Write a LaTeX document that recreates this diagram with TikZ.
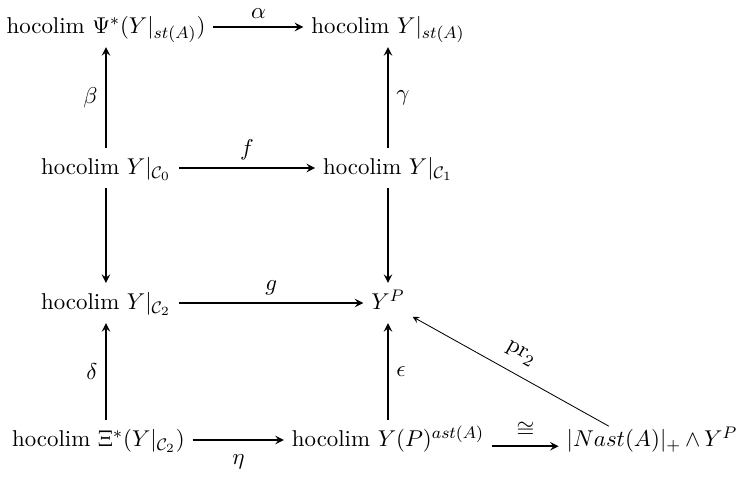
\documentclass[tikz,border=0pt,11pt]{standalone}
\usepackage{tikz}
\usetikzlibrary{positioning}

\begin{document}
\begin{tikzpicture}[
    on grid,
    obj/.style={text height=9pt, text depth=2.5pt},
    arrow/.style={->, >=stealth, thick},
    thinarrow/.style={->, >=stealth, thin}
]
\useasboundingbox (-1.782,-7.634) rectangle (10.610,0.454);

% Top row
\node[obj] (psi) {hocolim $\Psi^*(Y|_{st(A)})$};
\node[obj, right=4.742cm of psi] (sta) {hocolim $Y|_{st(A)}$};

% Second row
\node[obj, below=2.371cm of psi] (czero) {hocolim $Y|_{\mathcal{C}_0}$};
\node[obj, right=4.742cm of czero] (cone) {hocolim $Y|_{\mathcal{C}_1}$};

% Third row
\node[obj, below=2.270cm of czero] (ctwo) {hocolim $Y|_{\mathcal{C}_2}$};
\node[obj, right=4.742cm of ctwo] (yp) {$Y^P$};

% Bottom row
\node[obj, below left=2.303cm and 0.126cm of ctwo] (xi) {hocolim $\Xi^*(Y|_{\mathcal{C}_2})$};
\node[obj, below=2.303cm of yp] (ypast) {hocolim $Y(P)^{ast(A)}$};
\node[obj, right=4.439cm of ypast] (nast) {$|Nast(A)|_{+}\,{\wedge}\,Y^P$};

% Horizontal arrows
\draw[arrow] (psi) -- node[midway, above] {$\alpha$} (sta);
\draw[arrow] (czero) -- node[midway, above] {$f$} (cone);
\draw[arrow] (ctwo) -- node[midway, above] {$g$} (yp);
\draw[arrow] (xi) -- node[midway, below=3pt] {$\eta$} (ypast);
\draw[arrow] ([yshift=-3pt]ypast.east) -- node[midway, above] {$\cong$} ([yshift=-3pt]ypast.east -| nast.west);

% Vertical arrows
\draw[arrow] (czero) -- node[midway, left] {$\beta$} (psi);
\draw[arrow] (cone) -- node[midway, right] {$\gamma$} (sta);
\draw[arrow] (czero) -- (ctwo);
\draw[arrow] (cone) -- (yp);
\draw[arrow] (xi.north -| ctwo) -- node[midway, left] {$\delta$} (ctwo);
\draw[arrow] (ypast) -- node[midway, right] {$\epsilon$} (yp);

% Projection
\draw[thinarrow] ([xshift=24pt, yshift=-3pt]nast.north west) -- node[midway, above=2pt, sloped] {$\mathrm{pr}_2$} (yp);

\end{tikzpicture}
\end{document}
